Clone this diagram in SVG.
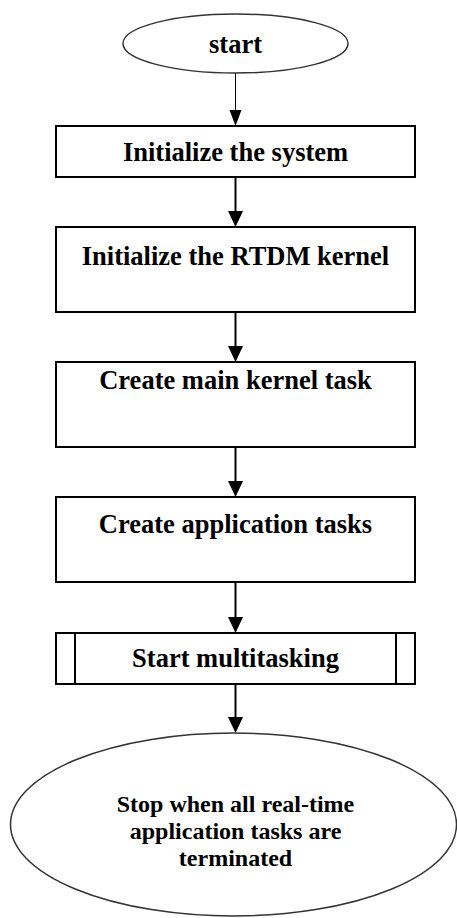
<svg xmlns="http://www.w3.org/2000/svg" width="457" height="918" viewBox="0 0 457 918">
<style>
.box{fill:#fff;stroke:#000;stroke-width:2}
.oval{fill:#fff;stroke:#333;stroke-width:1.5}
.t{font-family:"Liberation Serif","Times New Roman",serif;font-weight:bold;font-size:26.5px;text-anchor:middle;fill:#000}
.te{font-family:"Liberation Serif","Times New Roman",serif;font-weight:bold;font-size:24px;text-anchor:middle;fill:#000}
.c{stroke:#000;fill:none}
</style>
<defs>
<marker id="ah" markerWidth="8" markerHeight="8" refX="8" refY="4" orient="auto" markerUnits="userSpaceOnUse" viewBox="0 0 8 8"><path d="M0,0 L8,4 L0,8 Z" fill="#000"/></marker>
</defs>
<rect width="457" height="918" fill="#fff"/>
<g id="connectors">
<line class="c" x1="235.5" y1="73" x2="235.5" y2="111" stroke-width="1"/>
<path d="M229.5,110 L241.5,110 L235.5,126 Z" fill="#000"/>
<line class="c" x1="235.5" y1="177" x2="235.5" y2="212" stroke-width="2"/>
<path d="M228,211 L243,211 L235.5,227 Z" fill="#000"/>
<line class="c" x1="235.5" y1="312" x2="235.5" y2="347" stroke-width="2"/>
<path d="M228,346 L243,346 L235.5,362 Z" fill="#000"/>
<line class="c" x1="235.5" y1="447" x2="235.5" y2="482" stroke-width="2"/>
<path d="M228,481 L243,481 L235.5,497 Z" fill="#000"/>
<line class="c" x1="235.5" y1="582" x2="235.5" y2="618" stroke-width="2"/>
<path d="M228,617 L243,617 L235.5,633 Z" fill="#000"/>
<line class="c" x1="235.5" y1="684" x2="235.5" y2="718" stroke-width="2"/>
<path d="M228,717 L243,717 L235.5,733 Z" fill="#000"/>
</g>
<g id="start">
<ellipse class="oval" cx="235.5" cy="43.5" rx="112.5" ry="29.5"/>
<text class="t" x="235.5" y="53">start</text>
</g>
<g id="init-system">
<rect class="box" x="56" y="126" width="359" height="51"/>
<text class="t" x="235.5" y="161">Initialize the system</text>
</g>
<g id="init-rtdm">
<rect class="box" x="56" y="227" width="359" height="85"/>
<text class="t" x="235.5" y="265">Initialize the RTDM kernel</text>
</g>
<g id="main-task">
<rect class="box" x="56" y="362" width="359" height="85"/>
<text class="t" x="235.5" y="389">Create main kernel task</text>
</g>
<g id="app-tasks">
<rect class="box" x="56" y="497" width="359" height="85"/>
<text class="t" x="235.5" y="533">Create application tasks</text>
</g>
<g id="multitask">
<rect class="box" x="56" y="633" width="359" height="51"/>
<line class="c" x1="75" y1="633" x2="75" y2="684" stroke-width="2"/>
<line class="c" x1="396" y1="633" x2="396" y2="684" stroke-width="2"/>
<text class="t" x="235.5" y="667">Start multitasking</text>
</g>
<g id="stop">
<ellipse class="oval" cx="233.5" cy="824.5" rx="223" ry="91.5"/>
<text class="te" x="235.5" y="812">Stop when all real-time</text>
<text class="te" x="235.5" y="839">application tasks are</text>
<text class="te" x="235.5" y="866">terminated</text>
</g>
</svg>
